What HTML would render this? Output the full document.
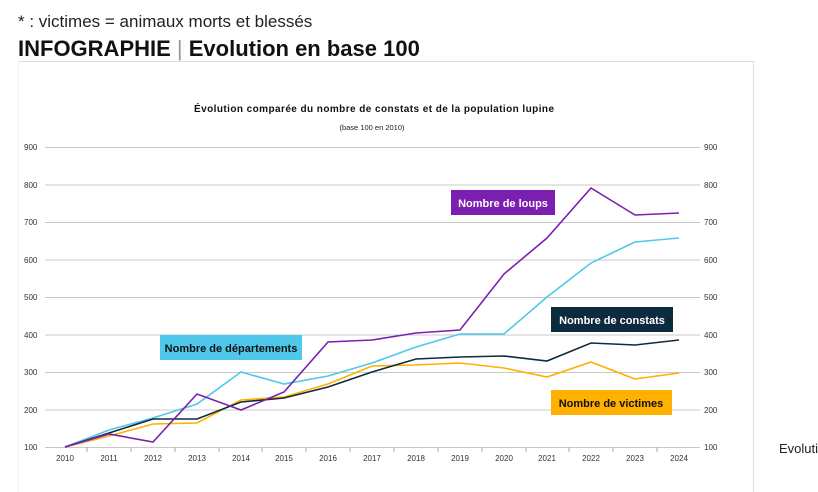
<!DOCTYPE html>
<html><head><meta charset="utf-8"><style>
body{margin:0;width:818px;height:485px;background:#fff;position:relative;overflow:hidden;font-family:"Liberation Sans",sans-serif}
.t1{position:absolute;left:18px;top:12px;font-size:17px;color:#222}
.t2{position:absolute;left:18px;top:36px;font-size:22px;font-weight:bold;color:#111}
.card{position:absolute;left:18px;top:61px;width:734px;height:430px;border-top:1px solid #ddd;border-right:1px solid #ddd;border-left:1px solid #f0f0f0}
.ev{position:absolute;left:779px;top:441px;font-size:13px;color:#222}
</style></head><body>
<div class="t1">* : victimes = animaux morts et blessés</div>
<div class="t2">INFOGRAPHIE <span style="font-weight:normal;color:#999">|</span> Evolution en base 100</div>
<div class="card"></div>
<div class="ev">Evoluti</div>
<svg width="818" height="485" style="position:absolute;left:0;top:0" font-family="Liberation Sans, sans-serif">
<text x="374" y="112" font-size="10" font-weight="bold" text-anchor="middle" fill="#111" textLength="360">Évolution comparée du nombre de constats et de la population lupine</text>
<text x="372" y="130" font-size="7.5" text-anchor="middle" fill="#222">(base 100 en 2010)</text>
<g stroke="#c8c8c8" stroke-width="1">
<line x1="45" x2="700" y1="147.5" y2="147.5"/><line x1="45" x2="700" y1="185" y2="185"/><line x1="45" x2="700" y1="222.5" y2="222.5"/><line x1="45" x2="700" y1="260" y2="260"/><line x1="45" x2="700" y1="297.5" y2="297.5"/><line x1="45" x2="700" y1="335" y2="335"/><line x1="45" x2="700" y1="372.5" y2="372.5"/><line x1="45" x2="700" y1="410" y2="410"/><line x1="45" x2="700" y1="447.5" y2="447.5"/>
</g>
<g stroke="#aaa" stroke-width="1">
<line x1="87" x2="87" y1="447" y2="452"/><line x1="131" x2="131" y1="447" y2="452"/><line x1="175" x2="175" y1="447" y2="452"/><line x1="219" x2="219" y1="447" y2="452"/><line x1="262" x2="262" y1="447" y2="452"/><line x1="306" x2="306" y1="447" y2="452"/><line x1="350" x2="350" y1="447" y2="452"/><line x1="394" x2="394" y1="447" y2="452"/><line x1="438" x2="438" y1="447" y2="452"/><line x1="482" x2="482" y1="447" y2="452"/><line x1="526" x2="526" y1="447" y2="452"/><line x1="569" x2="569" y1="447" y2="452"/><line x1="613" x2="613" y1="447" y2="452"/><line x1="657" x2="657" y1="447" y2="452"/>
</g>
<g font-size="8" fill="#333">
<text x="24" y="150">900</text><text x="24" y="188">800</text><text x="24" y="225">700</text><text x="24" y="263">600</text><text x="24" y="300">500</text><text x="24" y="338">400</text><text x="24" y="375">300</text><text x="24" y="413">200</text><text x="24" y="450">100</text>
<text x="704" y="150">900</text><text x="704" y="188">800</text><text x="704" y="225">700</text><text x="704" y="263">600</text><text x="704" y="300">500</text><text x="704" y="338">400</text><text x="704" y="375">300</text><text x="704" y="413">200</text><text x="704" y="450">100</text>
</g>
<g font-size="8" fill="#333" text-anchor="middle">
<text x="65" y="461">2010</text><text x="109" y="461">2011</text><text x="153" y="461">2012</text><text x="197" y="461">2013</text><text x="241" y="461">2014</text><text x="284" y="461">2015</text><text x="328" y="461">2016</text><text x="372" y="461">2017</text><text x="416" y="461">2018</text><text x="460" y="461">2019</text><text x="504" y="461">2020</text><text x="547" y="461">2021</text><text x="591" y="461">2022</text><text x="635" y="461">2023</text><text x="679" y="461">2024</text>
</g>
<g fill="none" stroke-width="1.6" marker-mid="url(#m)">
<polyline stroke="#4fc8ec" points="65,447 109,430 153,418 197,404 241,372 284,384 328,376 372,363 416,347 460,334 504,334 547,297 591,263 635,242 679,238"/>
<polyline stroke="#ffb000" points="65,447 109,436 153,424 197,423 241,400 284,397 328,384 372,366 416,365 460,363 504,368 547,377 591,362 635,379 679,373"/>
<polyline stroke="#0d2b3e" points="65,447 109,433 153,419 197,419 241,402 284,398 328,387 372,372 416,359 460,357 504,356 547,361 591,343 635,345 679,340"/>
<polyline stroke="#7a1fb0" points="65,447 109,434 153,442 197,394 241,410 284,392 328,342 372,340 416,333 460,330 504,274 547,238 591,188 635,215 679,213"/>
</g>
<rect x="451" y="190" width="104" height="25" fill="#7a1fb0"/><text x="503" y="207" font-size="11" font-weight="bold" fill="#fff" text-anchor="middle">Nombre de loups</text>
<rect x="160" y="335" width="142" height="25" fill="#4fc8ec"/><text x="231" y="352" font-size="11" font-weight="bold" fill="#111" text-anchor="middle">Nombre de départements</text>
<rect x="551" y="307" width="122" height="25" fill="#0d2b3e"/><text x="612" y="324" font-size="11" font-weight="bold" fill="#fff" text-anchor="middle">Nombre de constats</text>
<rect x="551" y="390" width="121" height="25" fill="#ffb000"/><text x="611" y="407" font-size="11" font-weight="bold" fill="#111" text-anchor="middle">Nombre de victimes</text>
</svg>
</body></html>
